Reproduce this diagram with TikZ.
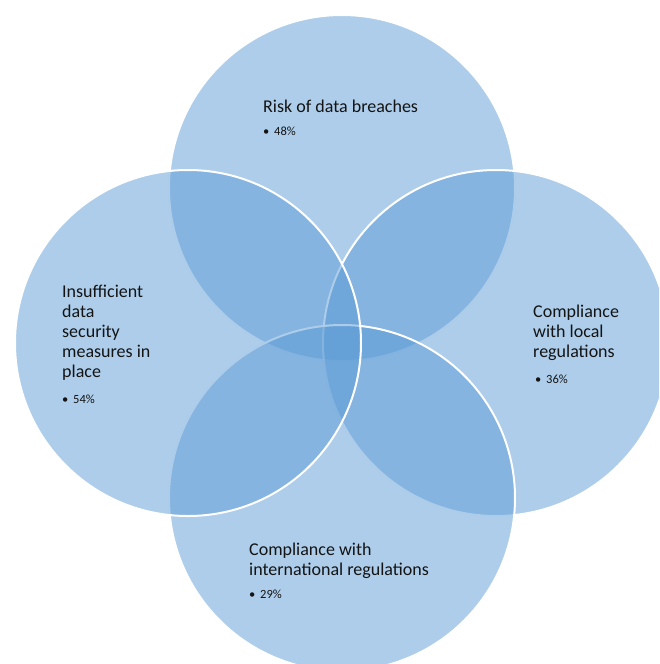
\documentclass[tikz,border=0pt]{standalone}
\usepackage{fontspec}
\setmainfont{Carlito}
\definecolor{vennblue}{RGB}{91,155,213}
\definecolor{labelink}{RGB}{20,20,20}
\begin{document}
\begin{tikzpicture}[x=1pt,y=-1pt,
  venn/.style={fill=vennblue,fill opacity=0.5,draw=white,line width=2pt},
  head/.style={anchor=base west,inner sep=0pt,text=labelink,font=\fontsize{18}{20}\selectfont},
  pct/.style={anchor=base west,inner sep=0pt,text=labelink,font=\fontsize{12.5}{15}\selectfont}]
\useasboundingbox (0,0) rectangle (659,664);
\begin{scope}
\clip (0,0) rectangle (659,664);
\path[venn] (342,188) circle (173);
\path[venn] (496,343) circle (173);
\path[venn] (342,498) circle (173);
\path[venn] (188,343) circle (173);
\end{scope}
% top circle
\node[head] (t1) at (263,112) {Risk of data breaches};
\node[pct] (tb) at (263,135) {•};
\node[pct] (tp) at (274,135) {48\%};
% left circle
\node[head] (l1) at (62,297) {Insufficient};
\node[head] (l2) at (62,317) {data};
\node[head] (l3) at (62,337) {security};
\node[head] (l4) at (62,357) {measures in};
\node[head] (l5) at (62,377) {place};
\node[pct] (lb) at (62,403) {•};
\node[pct] (lp) at (73,403) {54\%};
% right circle
\node[head] (r1) at (533,317) {Compliance};
\node[head] (r2) at (533,337) {with local};
\node[head] (r3) at (533,357) {regulations};
\node[pct] (rb) at (535,383) {•};
\node[pct] (rp) at (546,383) {36\%};
% bottom circle
\node[head] (b1) at (249,555) {Compliance with};
\node[head] (b2) at (249,575) {international regulations};
\node[pct] (bb) at (249,598) {•};
\node[pct] (bp) at (260,598) {29\%};
\end{tikzpicture}
\end{document}
